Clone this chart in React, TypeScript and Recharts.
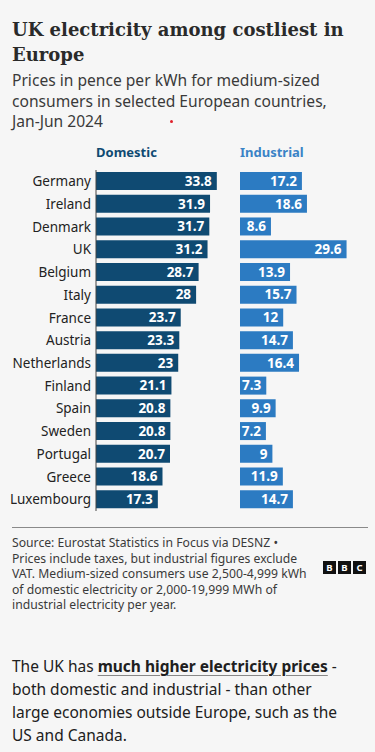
import React from "react";
import { BarChart, Bar, XAxis, YAxis, LabelList } from "recharts";

const countries = [
  "Germany", "Ireland", "Denmark", "UK", "Belgium", "Italy", "France", "Austria",
  "Netherlands", "Finland", "Spain", "Sweden", "Portugal", "Greece", "Luxembourg",
];
const domestic = [33.8, 31.9, 31.7, 31.2, 28.7, 28, 23.7, 23.3, 23, 21.1, 20.8, 20.8, 20.7, 18.6, 17.3];
const industrial = [17.2, 18.6, 8.6, 29.6, 13.9, 15.7, 12, 14.7, 16.4, 7.3, 9.9, 7.2, 9, 11.9, 14.7];
const seriesTitles = ["Domestic", "Industrial"];

const data = countries.map((c, i) => ({ country: c, domestic: domestic[i], industrial: industrial[i] }));

const SANS = "'Noto Sans', sans-serif";
const DOM = "#0f4a72";
const IND = "#2c7bc2";

export default function App() {
  return (
    <div
      style={{
        position: "absolute",
        left: 0,
        top: 0,
        width: 375,
        height: 752,
        background: "#f6f6f6",
        fontFamily: SANS,
        overflow: "hidden",
      }}
    >
      <div
        style={{
          position: "absolute",
          left: 12,
          top: 17,
          fontFamily: "'DejaVu Serif', serif",
          fontWeight: 700,
          fontSize: 18,
          lineHeight: "25px",
          color: "#2a2a2a",
          whiteSpace: "nowrap",
        }}
      >
        UK electricity among costliest in
        <br />
        Europe
      </div>
      <div
        style={{
          position: "absolute",
          left: 12,
          top: 70,
          fontSize: 15.6,
          lineHeight: "20.5px",
          color: "#3a3a3a",
          whiteSpace: "nowrap",
        }}
      >
        Prices in pence per kWh for medium-sized
        <br />
        consumers in selected European countries,
        <br />
        Jan-Jun 2024
      </div>
      <div
        style={{
          position: "absolute",
          left: 170,
          top: 120,
          width: 3,
          height: 3,
          borderRadius: 2,
          background: "#e0202a",
        }}
      />

      <div
        style={{
          position: "absolute",
          left: 96,
          top: 143,
          fontSize: 13,
          fontWeight: 700,
          color: DOM,
          lineHeight: "18px",
        }}
      >
        {seriesTitles[0]}
      </div>
      <div
        style={{
          position: "absolute",
          left: 240,
          top: 143,
          fontSize: 13,
          fontWeight: 700,
          color: "#3a83c6",
          lineHeight: "18px",
        }}
      >
        {seriesTitles[1]}
      </div>

      <div style={{ position: "absolute", left: 0, top: 170 }}>
        <BarChart
          width={239}
          height={341}
          data={data}
          layout="vertical"
          margin={{ top: 0, right: 0, bottom: 0, left: 0 }}
          barSize={18}
        >
          <XAxis type="number" domain={[0, 40]} hide />
          <YAxis
            type="category"
            dataKey="country"
            width={96}
            interval={0}
            tickLine={false}
            tickSize={0}
            tickMargin={5}
            axisLine={{ stroke: "#444", strokeWidth: 1 }}
            tick={{ fill: "#222", fontSize: 13.5, fontFamily: SANS }}
          />
          <Bar dataKey="domestic" fill={DOM} isAnimationActive={false}>
            <LabelList
              dataKey="domestic"
              position="insideRight"
              offset={5}
              fill="#fff"
              fontSize={13.5}
              fontWeight={700}
              fontFamily={SANS}
            />
          </Bar>
        </BarChart>
      </div>

      <div style={{ position: "absolute", left: 240, top: 170 }}>
        <BarChart
          width={108}
          height={341}
          data={data}
          layout="vertical"
          margin={{ top: 0, right: 0, bottom: 0, left: 0 }}
          barSize={18}
        >
          <XAxis type="number" domain={[0, 30]} hide />
          <YAxis type="category" dataKey="country" hide />
          <Bar dataKey="industrial" fill={IND} isAnimationActive={false}>
            <LabelList
              dataKey="industrial"
              position="insideRight"
              offset={5}
              fill="#fff"
              fontSize={13.5}
              fontWeight={700}
              fontFamily={SANS}
            />
          </Bar>
        </BarChart>
      </div>

      <div
        style={{
          position: "absolute",
          left: 12,
          top: 527,
          width: 356,
          height: 1,
          background: "#8a8a8a",
        }}
      />
      <div
        style={{
          position: "absolute",
          left: 12,
          top: 535,
          fontSize: 12.2,
          lineHeight: "15.5px",
          color: "#3a3a3a",
          whiteSpace: "nowrap",
        }}
      >
        Source: Eurostat Statistics in Focus via DESNZ •
        <br />
        Prices include taxes, but industrial figures exclude
        <br />
        VAT. Medium-sized consumers use 2,500-4,999 kWh
        <br />
        of domestic electricity or 2,000-19,999 MWh of
        <br />
        industrial electricity per year.
      </div>
      {["B", "B", "C"].map((ch, i) => (
        <div
          key={i}
          style={{
            position: "absolute",
            left: 323 + i * 15,
            top: 561,
            width: 13,
            height: 13,
            background: "#111",
            color: "#fff",
            fontSize: 9.5,
            fontWeight: 700,
            lineHeight: "13px",
            textAlign: "center",
            fontFamily: SANS,
          }}
        >
          {ch}
        </div>
      ))}

      <div
        style={{
          position: "absolute",
          left: 12,
          top: 655,
          fontSize: 15.5,
          lineHeight: "23px",
          color: "#202020",
          whiteSpace: "nowrap",
        }}
      >
        The UK has{" "}
        <span
          style={{
            fontWeight: 700,
            textDecoration: "underline",
            textDecorationColor: "#888",
            textUnderlineOffset: 3,
          }}
        >
          much higher electricity prices
        </span>{" "}
        -
        <br />
        both domestic and industrial - than other
        <br />
        large economies outside Europe, such as the
        <br />
        US and Canada.
      </div>
    </div>
  );
}
